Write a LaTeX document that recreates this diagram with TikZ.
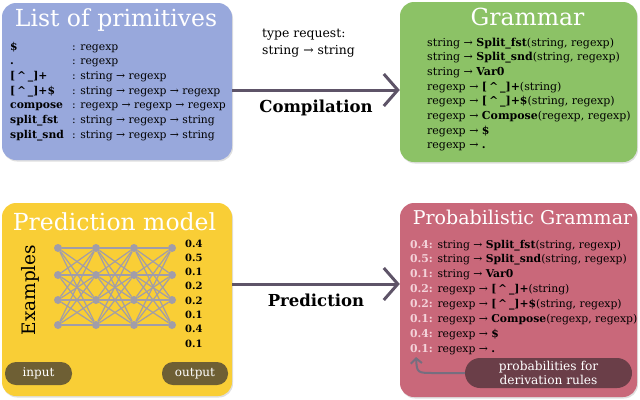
\documentclass[tikz,border=0pt]{standalone}
\usepackage{fontspec}
\setmainfont{DejaVu Serif}
\usetikzlibrary{arrows.meta, positioning, calc, shadows}
\definecolor{primblue}{HTML}{98A8DC}
\definecolor{gramgreen}{HTML}{8CC266}
\definecolor{predyellow}{HTML}{F9CE36}
\definecolor{probpink}{HTML}{C9687A}
\definecolor{olivepill}{HTML}{6E5F34}
\definecolor{winepill}{HTML}{6A3E48}
\definecolor{arrowgray}{HTML}{5E5468}
\definecolor{netgray}{HTML}{A19DA9}
\definecolor{probnum}{HTML}{F4D3DA}
\newcommand{\ra}{\ \textrightarrow\ }
\newcommand{\hatbar}{[\,\textasciicircum\,\_]}

\begin{document}
\begin{tikzpicture}[
    x=1pt, y=-1pt,
    panel/.style={rounded corners=14pt, inner sep=0pt,
                  drop shadow={opacity=0.25, shadow xshift=1pt, shadow yshift=-1.5pt}},
    paneltitle/.style={text=white, font=\fontsize{23.5}{26}\selectfont, inner sep=0pt, anchor=base},
    listtext/.style={inner sep=0pt, anchor=base west, font=\fontsize{11}{14.7}\selectfont},
    pill/.style={rounded corners=11pt, inner sep=0pt, text=white, align=center,
                 font=\fontsize{12}{14}\selectfont},
    neuron/.style={circle, fill=netgray, inner sep=0pt, minimum size=8pt},
    bigarrow/.style={draw=arrowgray, line width=3pt, -{Straight Barb[length=14pt,width=32pt]}},
    arrowlabel/.style={font=\bfseries\fontsize{16.5}{19}\selectfont, inner sep=0pt}
]
  \useasboundingbox (0,0) rectangle (640,399);

  % Panels
  \node[panel, fill=primblue, minimum width=230pt, minimum height=157pt] (prim) at (117,81.5) {};
  \node[panel, fill=gramgreen, minimum width=237pt, minimum height=160pt] (gram) at (518.5,82) {};
  \node[panel, fill=predyellow, minimum width=230pt, minimum height=193pt] (pred) at (117,299.5) {};
  \node[panel, fill=probpink, minimum width=237pt, minimum height=194pt] (prob) at (518.5,300) {};

  % Titles
  \node[paneltitle] (primtitle) at (116,26) {List of primitives};
  \node[paneltitle] (gramtitle) at (527.5,25) {Grammar};
  \node[paneltitle] (predtitle) at (114.5,230) {Prediction model};
  \node[paneltitle, font=\fontsize{19}{22}\selectfont] (probtitle) at (522.5,224) {Probabilistic Grammar};

  % List of primitives
  \node[listtext, font=\fontsize{10.8}{14.7}\selectfont] (primlist) at (10,50) {%
    \begin{tabular}[t]{@{}p{62pt}@{}l@{}}
      \textbf{\$}         & : regexp\\
      \textbf{.}          & : regexp\\
      \textbf{\hatbar+}   & : string\ra regexp\\
      \textbf{\hatbar+\$} & : string\ra regexp\ra regexp\\
      \textbf{compose}    & : regexp\ra regexp\ra regexp\\
      \textbf{split\_fst} & : string\ra regexp\ra string\\
      \textbf{split\_snd} & : string\ra regexp\ra string
    \end{tabular}};

  % Grammar rules
  \node[listtext] (gramlist) at (427,46) {%
    \begin{tabular}[t]{@{}l@{}}
      string\ra\textbf{Split\_fst}(string, regexp)\\
      string\ra\textbf{Split\_snd}(string, regexp)\\
      string\ra\textbf{Var0}\\
      regexp\ra\textbf{\hatbar+}(string)\\
      regexp\ra\textbf{\hatbar+\$}(string, regexp)\\
      regexp\ra\textbf{Compose}(regexp, regexp)\\
      regexp\ra\textbf{\$}\\
      regexp\ra\textbf{.}
    \end{tabular}};

  % Probabilistic grammar rules
  \node[listtext, font=\fontsize{10.8}{14.86}\selectfont] (problist) at (410,248) {%
    \begin{tabular}[t]{@{}l@{}}
      \textcolor{probnum}{\textbf{0.4:}} string\ra\textbf{Split\_fst}(string, regexp)\\
      \textcolor{probnum}{\textbf{0.5:}} string\ra\textbf{Split\_snd}(string, regexp)\\
      \textcolor{probnum}{\textbf{0.1:}} string\ra\textbf{Var0}\\
      \textcolor{probnum}{\textbf{0.2:}} regexp\ra\textbf{\hatbar+}(string)\\
      \textcolor{probnum}{\textbf{0.2:}} regexp\ra\textbf{\hatbar+\$}(string, regexp)\\
      \textcolor{probnum}{\textbf{0.1:}} regexp\ra\textbf{Compose}(regexp, regexp)\\
      \textcolor{probnum}{\textbf{0.4:}} regexp\ra\textbf{\$}\\
      \textcolor{probnum}{\textbf{0.1:}} regexp\ra\textbf{.}
    \end{tabular}};

  % Network
  \foreach \c/\x in {1/58,2/96,3/134,4/172}
    \foreach \r/\y in {1/248,2/275,3/300,4/325}
      \node[neuron] (n-\c-\r) at (\x,\y) {};
  \foreach \c [evaluate=\c as \d using int(\c+1)] in {1,2,3}
    \foreach \r in {1,...,4}
      \foreach \s in {1,...,4}
        \draw[netgray, line width=1.2pt] (n-\c-\r) -- (n-\d-\s);

  \node[rotate=90, inner sep=0pt, font=\fontsize{18.5}{20}\selectfont] (examples) at (30,290) {Examples};
  \node[listtext, font=\bfseries\fontsize{10}{14.3}\selectfont] (outvals) at (185,247) {%
    \begin{tabular}[t]{@{}l@{}}
      0.4\\ 0.5\\ 0.1\\ 0.2\\ 0.2\\ 0.1\\ 0.4\\ 0.1
    \end{tabular}};

  \node[pill, fill=olivepill, minimum width=67pt, minimum height=23pt] (input) at (38.5,373.5) {input};
  \node[pill, fill=olivepill, minimum width=66pt, minimum height=23pt] (output) at (195,373.5) {output};

  % Probabilities note
  \node[pill, fill=winepill, rounded corners=15pt, minimum width=167pt, minimum height=30pt,
        font=\fontsize{12.2}{14}\selectfont] (derivnote) at (548.5,373) {probabilities for\\derivation rules};
  \coordinate (ruletip) at (416,357);
  \draw[draw=arrowgray!85, line width=2pt, -{Straight Barb[length=5pt,width=11pt]}]
    (derivnote.west) -- ++(-30,0) .. controls (417,373) .. (ruletip);

  % Main arrows
  \draw[bigarrow] (prim.east |- 0,90) -- (gram.west |- 0,90)
    node[arrowlabel, midway, below=8pt] (complabel) {Compilation};
  \node[anchor=north west, align=left, inner sep=0pt, font=\fontsize{12.4}{17}\selectfont]
    (typereq) at (262,28.5) {type request:\\string\ra string};
  \draw[bigarrow] (pred.east |- 0,284) -- (prob.west |- 0,284)
    node[arrowlabel, midway, below=8pt] (predlabel) {Prediction};
\end{tikzpicture}
\end{document}
